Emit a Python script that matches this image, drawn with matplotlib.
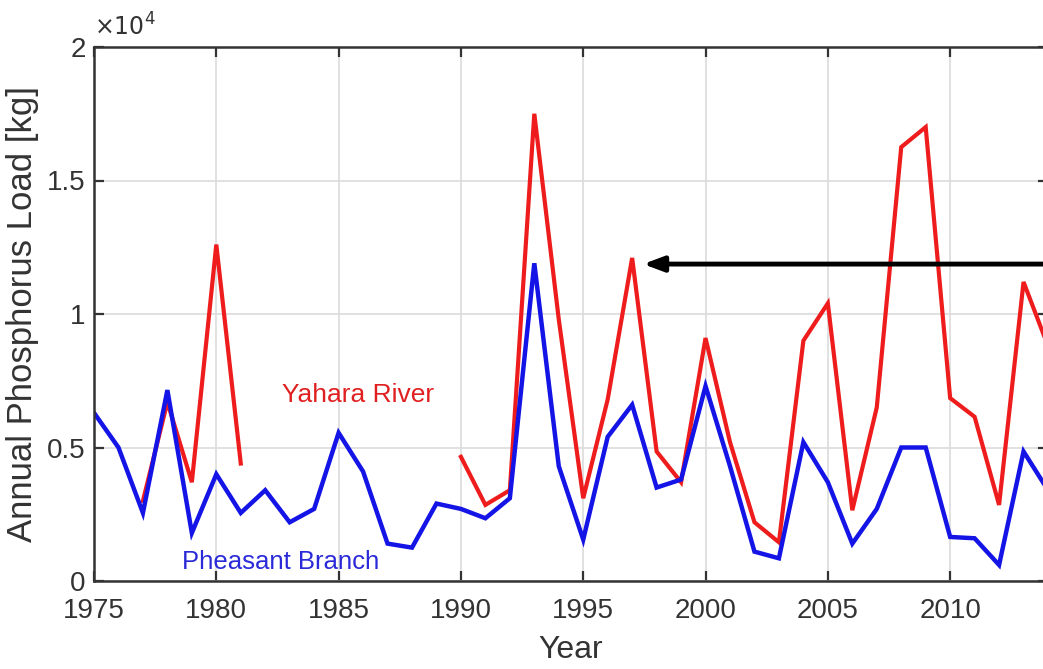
import matplotlib
matplotlib.use("Agg")
import matplotlib.pyplot as plt
import numpy as np

# Annual phosphorus load [kg]
years = np.arange(1975, 2015)

yahara = [np.nan, np.nan, 3000, 6700, 3700, 12600, 4400, np.nan, np.nan, np.nan,
          np.nan, np.nan, np.nan, np.nan, np.nan, 4650, 2850, 3400, 17500, 9800,
          3100, 6800, 12100, 4850, 3700, 9100, 5200, 2200, 1450, 9000,
          10400, 2650, 6500, 16250, 17000, 6850, 6150, 2850, 11200, 8800]

pheasant = [6300, 5000, 2550, 7150, 1800, 4000, 2550, 3400, 2200, 2700,
            5550, 4100, 1400, 1250, 2900, 2700, 2350, 3100, 11900, 4300,
            1550, 5400, 6600, 3500, 3800, 7300, 4300, 1100, 850, 5200,
            3700, 1400, 2700, 5000, 5000, 1650, 1600, 600, 4850, 3400]

xticks = [1975, 1980, 1985, 1990, 1995, 2000, 2005, 2010]
yticks = [0, 5000, 10000, 15000, 20000]
ytick_labels = ['0', '0.5', '1', '1.5', '2']

arrow_y = 11870
arrow_tip = 1997.45

plt.rcParams['font.family'] = ['Liberation Sans', 'DejaVu Sans']

fig = plt.figure(figsize=(10.43, 6.69), dpi=100)
ax = fig.add_axes([94 / 1043, 88 / 669, (1048 - 94) / 1043, (581 - 47) / 669])

ax.plot(years, yahara, color='#ee1c1c', lw=3.0, solid_joinstyle='miter')
ax.plot(years, pheasant, color='#1414e6', lw=3.2, solid_joinstyle='miter')

ax.set_xlim(1975, 2014)
ax.set_ylim(0, 20000)
ax.set_xticks(xticks)
ax.set_xticklabels([str(t) for t in xticks])
ax.set_yticks(yticks)
ax.set_yticklabels(ytick_labels)

ax.grid(True, color='#dcdcdc', lw=1.2)
ax.set_axisbelow(True)
for s in ax.spines.values():
    s.set_color('#333333')
    s.set_linewidth(1.8)
ax.tick_params(direction='in', length=7, width=1.6, color='#333333',
               top=True, right=True, labelsize=20, labelcolor='#333333')
ax.tick_params(axis='x', pad=12)
ax.tick_params(axis='y', pad=6)

ax.set_xlabel('Year', fontsize=23, color='#333333', labelpad=8)
ax.set_ylabel('Annual Phosphorus Load [kg]', fontsize=25, color='#333333',
              labelpad=6)

ax.text(0.0, 1.012, r'$\times10^4$', transform=ax.transAxes, fontsize=17,
        color='#333333', ha='left', va='bottom')

ax.text(1982.7, 6970, 'Yahara River', color='#e02020', fontsize=19,
        ha='left', va='center')
ax.text(1978.6, 710, 'Pheasant Branch', color='#2a2ad8', fontsize=18.5,
        ha='left', va='center')

ax.annotate('', xy=(arrow_tip, arrow_y), xytext=(2016, arrow_y),
            xycoords='data', textcoords='data', annotation_clip=False,
            arrowprops=dict(arrowstyle='-|>,head_length=1.2,head_width=0.45',
                            color='black', lw=3.5, shrinkA=0, shrinkB=0))

fig.savefig('out.png', dpi=100, facecolor='white')
